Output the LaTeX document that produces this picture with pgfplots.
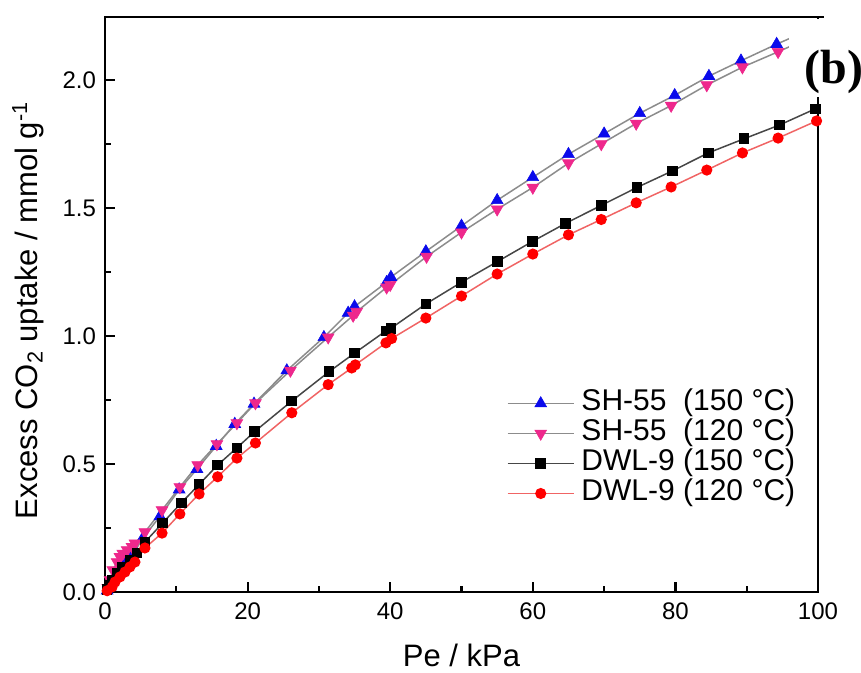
\documentclass[border=0pt]{standalone}
\usepackage{pgfplots}
\pgfplotsset{compat=1.18}
\usepackage{fontspec}
\setmainfont{Liberation Sans}
\newfontfamily\serifb{Liberation Serif}
\definecolor{mpink}{RGB}{238,40,140}
\definecolor{mblue}{RGB}{10,10,235}
\definecolor{lgray}{RGB}{140,140,140}
\definecolor{dgray}{RGB}{70,70,70}
\definecolor{lred}{RGB}{240,100,100}
\begin{document}
\begin{tikzpicture}
\useasboundingbox (-52.5pt,-40.5pt) rectangle (378pt,296pt);
\begin{axis}[
  at={(0,0)}, anchor=south west,
  scale only axis, width=356.5pt, height=287.5pt,
  xmin=0, xmax=100, ymin=0, ymax=2.246,
  axis line style={line width=1.2pt},
  xtick={0,20,...,100}, minor xtick={10,30,...,90},
  ytick={0,0.5,...,2.0}, minor ytick={0.25,0.75,...,1.75},
  xtick pos=bottom, ytick pos=left,
  tick align=inside,
  major tick length=5pt, minor tick length=3pt,
  every tick/.style={line width=1.1pt, black},
  /pgf/number format/assume math mode=true,
  tick label style={font=\fontsize{12}{14}\selectfont},
  yticklabel style={/pgf/number format/fixed, /pgf/number format/fixed zerofill, /pgf/number format/precision=1, xshift=-1pt},
  xticklabel style={yshift=-2pt},
  xlabel={Pe / kPa},
  ylabel={Excess CO\textsubscript{2} uptake / mmol g\textsuperscript{-1}},
  label style={font=\fontsize{15.5}{18}\selectfont},
  xlabel style={at={(axis description cs:0.5,-0.1096)}, anchor=center},
  ylabel style={at={(axis description cs:-0.108,0.49)}, anchor=center},
  legend image code/.code={\draw[mark repeat=2,mark phase=2] plot coordinates {(0pt,0pt) (16.5pt,0pt) (33pt,0pt)};},
  legend cell align=left,
  legend style={draw=none, fill=none, inner sep=0pt, outer sep=0pt,
    at={(axis description cs:0.5638,0.3513)}, anchor=north west,
    font=\fontsize{15}{15}\selectfont,
    nodes={inner sep=0pt, text height=10.5pt, text depth=3pt},
    row sep=1.5pt, column sep=3.5pt},
]
\addplot[color=lgray, line width=0.75pt, mark=triangle*, mark size=3.4pt, mark options={fill=mblue, draw=mblue, line width=0.3pt}] coordinates {
(0.3,0.005) (0.7,0.02) (1.1,0.045) (1.8,0.08) (2.5,0.105) (3.1,0.125) (3.7,0.145) (4.2,0.16)
(5.3,0.21) (7.7,0.295) (10.4,0.40) (12.9,0.48) (15.6,0.57) (18.2,0.656) (20.9,0.735)
(25.5,0.865) (30.7,0.995) (34.1,1.09) (35.0,1.115) (39.5,1.21) (40.1,1.23) (45.0,1.33)
(50.0,1.43) (55.0,1.53) (60.0,1.62) (65.0,1.71) (70.0,1.79) (75.0,1.87) (79.9,1.94)
(84.7,2.015) (89.2,2.075) (94.2,2.14) (100,2.21)};
\addlegendentry{SH-55\ \ (150 °C)}
\addplot[color=lgray, line width=0.75pt, mark=triangle*, mark size=3.4pt, mark options={rotate=180, fill=mpink, draw=mpink, line width=0.3pt}] coordinates {
(0.4,0.016) (0.7,0.047) (1.1,0.086) (1.7,0.117) (2.1,0.137) (2.5,0.15) (3.1,0.164) (3.8,0.176)
(4.2,0.19) (5.6,0.234) (8.0,0.32) (10.5,0.41) (13.0,0.496) (15.7,0.578) (18.5,0.66)
(21.1,0.738) (26.0,0.865) (31.3,0.995) (34.8,1.08) (35.3,1.095) (39.5,1.19) (40.0,1.20)
(45.1,1.31) (50.0,1.405) (55.0,1.495) (60.0,1.58) (65.0,1.675) (69.6,1.75) (74.5,1.83)
(79.4,1.90) (84.4,1.98) (89.4,2.05) (94.4,2.11) (100,2.18)};
\addlegendentry{SH-55\ \ (120 °C)}
\addplot[color=dgray, line width=0.75pt, mark=square*, mark size=2.3pt, mark options={fill=black, draw=black}] coordinates {
(0.3,0.01) (0.7,0.027) (1.0,0.047) (1.7,0.074) (2.5,0.098) (3.5,0.125) (4.5,0.152)
(5.6,0.195) (8.1,0.27) (10.7,0.348) (13.2,0.42) (15.8,0.496) (18.5,0.563) (21.0,0.627)
(26.2,0.746) (31.4,0.86) (35.0,0.933) (39.4,1.02) (40.1,1.03) (45.0,1.125) (50.0,1.21)
(55.0,1.29) (60.0,1.37) (64.6,1.44) (69.6,1.51) (74.6,1.58) (79.6,1.645) (84.6,1.715)
(89.6,1.77) (94.6,1.824) (99.6,1.887)};
\addlegendentry{DWL-9 (150 °C)}
\addplot[color=lred, line width=0.75pt, mark=*, mark size=2.4pt, mark options={fill=red, draw=red}] coordinates {
(0.3,0.005) (1.0,0.02) (1.4,0.039) (2.1,0.059) (2.8,0.078) (3.5,0.098) (4.2,0.117)
(5.6,0.172) (8.0,0.23) (10.5,0.305) (13.2,0.383) (15.8,0.45) (18.5,0.523) (21.1,0.582)
(26.2,0.70) (31.3,0.81) (34.6,0.875) (35.1,0.887) (39.4,0.973) (40.2,0.99) (45.0,1.07)
(50.0,1.156) (55.0,1.242) (60.0,1.32) (65.0,1.395) (69.6,1.455) (74.5,1.52) (79.4,1.582)
(84.4,1.648) (89.4,1.715) (94.4,1.773) (99.8,1.84)};
\addlegendentry{DWL-9 (120 °C)}
\end{axis}
\fill[white] (342pt,247.5pt) rectangle (380pt,286.6pt);
\draw[line width=1.2pt] (356pt,287.5pt) -- (359.5pt,287.5pt);
\node[font=\serifb\bfseries\fontsize{24}{28}\selectfont, inner sep=0pt] at (364.5pt,260pt) {(b)};
\end{tikzpicture}
\end{document}
